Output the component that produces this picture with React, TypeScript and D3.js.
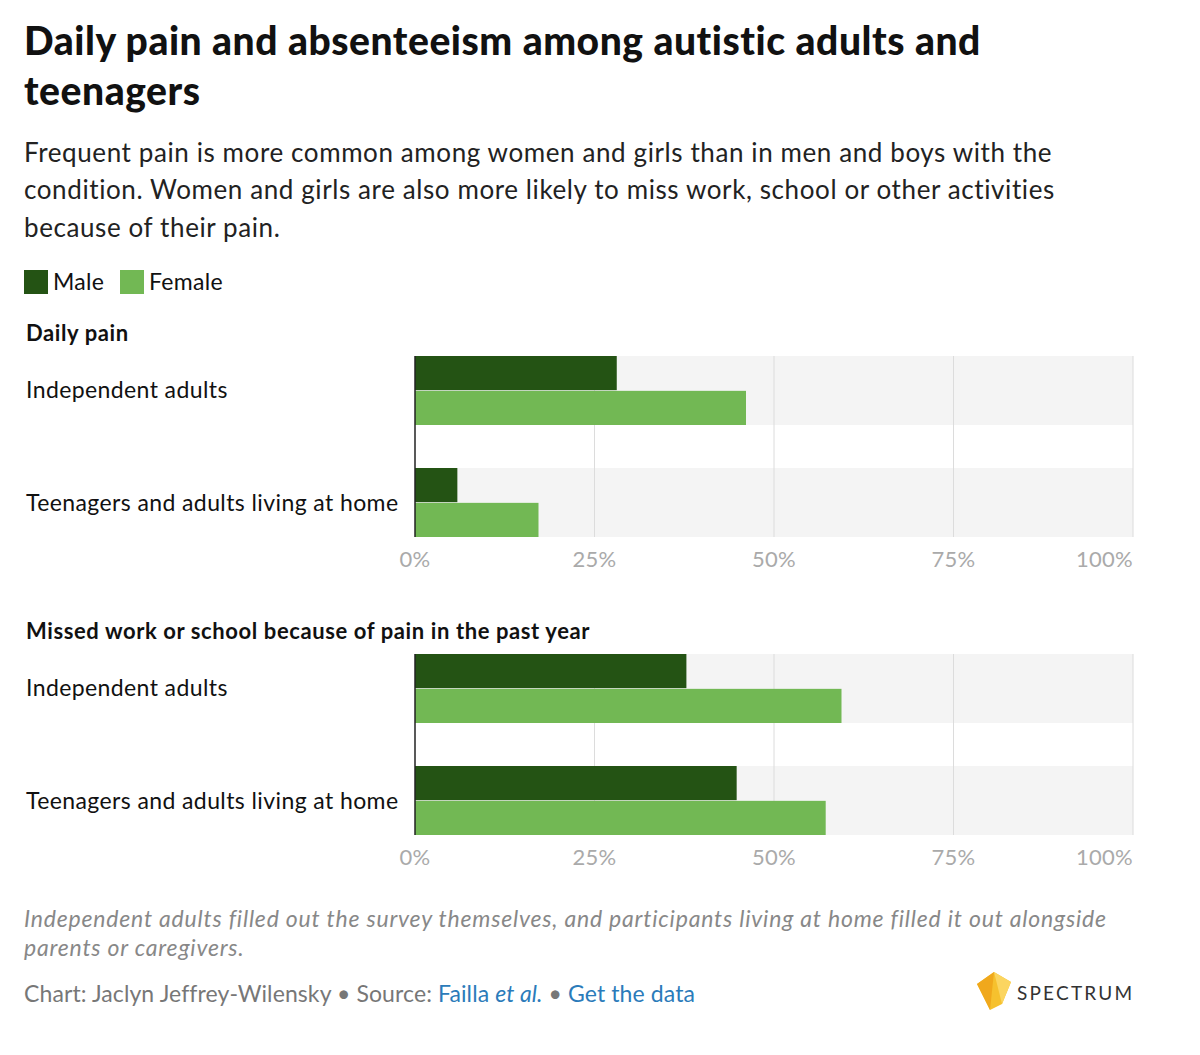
import * as d3 from 'd3';

const groups = ['Independent adults', 'Teenagers and adults living at home'];
const seriesKeys = ['Male', 'Female'];
const seriesColors = ['#245314', '#72b854'];
const panelTitles = ['Daily pain', 'Missed work or school because of pain in the past year'];
const dailyPainMale = [28.1, 5.9];
const dailyPainFemale = [46.1, 17.2];
const missedMale = [37.8, 44.8];
const missedFemale = [59.4, 57.2];
const xTicks = [0, 25, 50, 75, 100];

const panels = [
  { title: panelTitles[0], male: dailyPainMale, female: dailyPainFemale, top: 356 },
  { title: panelTitles[1], male: missedMale, female: missedFemale, top: 654 },
];

const FONT = 'Lato, "Open Sans", sans-serif';

const x = d3.scaleLinear().domain([0, 100]).range([415, 1133]);

function Panel({ title, male, female, top }: { title: string; male: number[]; female: number[]; top: number }) {
  const y = d3.scaleBand<string>().domain(groups).range([top, top + 181]).paddingInner(0.384).paddingOuter(0);
  const sub = d3.scaleBand<string>().domain(seriesKeys).range([0, y.bandwidth()]).paddingInner(0.02);
  const values = [male, female];
  const [y0, y1] = y.range();
  return (
    <g>
      <text x={26} y={top - 15} fontSize={22} fontWeight={700} letterSpacing={0.6} fill="#111">{title}</text>
      {groups.map((g) => (
        <rect key={g} x={x(0)} y={y(g)} width={x(100) - x(0)} height={y.bandwidth()} fill="#f4f4f4" />
      ))}
      {xTicks.slice(1).map((t) => (
        <line key={t} x1={x(t)} x2={x(t)} y1={y0} y2={y1} stroke="#dcdcdc" strokeWidth={1} />
      ))}
      {groups.map((g, gi) => (
        <g key={g}>
          <text x={26} y={(y(g) as number) + y.bandwidth() / 2 + 8} fontSize={23} letterSpacing={0.4} fill="#111">{g}</text>
          {seriesKeys.map((k, si) => (
            <rect
              key={k}
              x={x(0)}
              y={(y(g) as number) + (sub(k) as number)}
              width={x(values[si][gi]) - x(0)}
              height={sub.bandwidth()}
              fill={seriesColors[si]}
            />
          ))}
        </g>
      ))}
      <line x1={x(0)} x2={x(0)} y1={y0} y2={y1} stroke="#222" strokeWidth={1.5} />
      {xTicks.map((t, i) => (
        <text
          key={t}
          x={x(t)}
          y={y1 + 30}
          fontSize={22}
          letterSpacing={0.3}
          fill="#aaa"
          textAnchor={i === xTicks.length - 1 ? 'end' : 'middle'}
        >
          {t}%
        </text>
      ))}
    </g>
  );
}

export default function App() {
  return (
    <div style={{ position: 'absolute', left: 0, top: 0 }}>
      <svg width={1200} height={1055} style={{ display: 'block', fontFamily: FONT }}>
        <rect width={1200} height={1055} fill="#fff" />
        <g fontSize={39} fontWeight={900} letterSpacing={0.55} fill="#111">
          <text x={24} y={55}>Daily pain and absenteeism among autistic adults and</text>
          <text x={24} y={105}>teenagers</text>
        </g>
        <g fontSize={26} letterSpacing={0.6} fill="#222">
          <text x={24} y={162}>Frequent pain is more common among women and girls than in men and boys with the</text>
          <text x={24} y={199}>condition. Women and girls are also more likely to miss work, school or other activities</text>
          <text x={24} y={237}>because of their pain.</text>
        </g>
        <g>
          {seriesKeys.map((k, i) => {
            const lx = i === 0 ? 24 : 120;
            return (
              <g key={k}>
                <rect x={lx} y={270} width={24} height={24} fill={seriesColors[i]} />
                <text x={lx + 29} y={290} fontSize={23} letterSpacing={0.3} fill="#111">{k}</text>
              </g>
            );
          })}
        </g>
        {panels.map((p) => (
          <Panel key={p.title} {...p} />
        ))}
        <g fontSize={23} fill="#888" fontStyle="italic" letterSpacing={0.8}>
          <text x={24} y={927}>Independent adults filled out the survey themselves, and participants living at home filled it out alongside</text>
          <text x={24} y={956}>parents or caregivers.</text>
        </g>
        <text x={24} y={1002} fontSize={23} letterSpacing={0.1} fill="#777">
          Chart: Jaclyn Jeffrey-Wilensky • Source: <tspan fill="#2b7bba">Failla </tspan>
          <tspan fill="#2b7bba" fontStyle="italic">et al.</tspan>
          <tspan> • </tspan>
          <tspan fill="#2b7bba">Get the data</tspan>
        </text>
        <g>
          <polygon points="977,984 994,972 1011,982 1002,1004 990,1010" fill="#f6c12e" />
          <polygon points="977,984 994,972 990,1010" fill="#f0a81c" />
          <polygon points="994,972 1011,982 1002,1004" fill="#fbd560" />
          <text x={1017} y={1000} fontSize={19} fill="#333" letterSpacing={2.2}>SPECTRUM</text>
        </g>
      </svg>
    </div>
  );
}
